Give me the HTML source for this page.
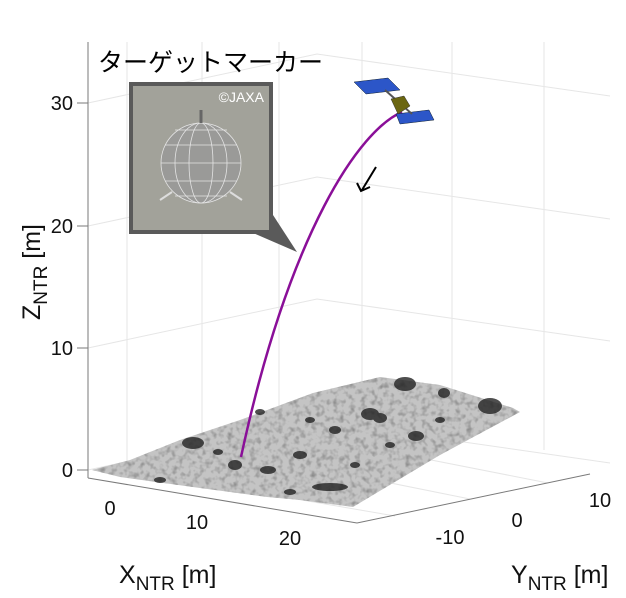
<!DOCTYPE html>
<html><head><meta charset="utf-8"><style>
html,body{margin:0;padding:0;background:#fff;}
svg{display:block;font-family:"Liberation Sans","Noto Sans CJK JP",sans-serif;}
</style></head><body>
<svg width="626" height="598" viewBox="0 0 626 598" xmlns="http://www.w3.org/2000/svg">
<defs>
<filter id="n" x="0" y="0" width="1" height="1">
<feTurbulence type="fractalNoise" baseFrequency="0.18" numOctaves="2" seed="3"/>
<feColorMatrix type="matrix" values="0 0 0 0 0.25  0 0 0 0 0.25  0 0 0 0 0.25  0 0 0 -2.2 1.2"/>
<feComposite in2="SourceGraphic" operator="in"/>
</filter>
</defs>
<g stroke="#e6e6e6" stroke-width="1" fill="none">
<line x1="127" y1="42" x2="127" y2="470"/>
<line x1="202" y1="42" x2="202" y2="445"/>
<line x1="279" y1="42" x2="279" y2="430"/>
<line x1="362" y1="42" x2="362" y2="425"/>
<line x1="452" y1="42" x2="452" y2="435"/>
<line x1="544" y1="42" x2="544" y2="450"/>
<polyline points="88,103 317,54 610,96"/>
<polyline points="88,226 317,177 610,219"/>
<polyline points="88,348 317,299 610,341"/>
<polyline points="88,470 317,421 610,463"/>
<line x1="127" y1="470" x2="395" y2="516"/>
<line x1="202" y1="445" x2="470" y2="499"/>
<line x1="279" y1="430" x2="548" y2="483"/>
</g>
<g stroke="#7a7a7a" stroke-width="1" fill="none">
<line x1="88" y1="42" x2="88" y2="478"/>
<line x1="88" y1="478" x2="357" y2="523"/>
<line x1="357" y1="523" x2="590" y2="474"/>
<line x1="77" y1="103" x2="88" y2="103"/><line x1="77" y1="226" x2="88" y2="226"/>
<line x1="77" y1="348" x2="88" y2="348"/><line x1="77" y1="470" x2="88" y2="470"/>
</g>
<g font-size="20" fill="#111">
<text x="73" y="110" text-anchor="end">30</text>
<text x="73" y="233" text-anchor="end">20</text>
<text x="73" y="355" text-anchor="end">10</text>
<text x="73" y="477" text-anchor="end">0</text>
<text x="110" y="515" text-anchor="middle">0</text>
<text x="197" y="529" text-anchor="middle">10</text>
<text x="290" y="545" text-anchor="middle">20</text>
<text x="450" y="544" text-anchor="middle">-10</text>
<text x="517" y="527" text-anchor="middle">0</text>
<text x="600" y="507" text-anchor="middle">10</text>
</g>
<text x="119" y="583" font-size="25" fill="#111">X<tspan font-size="19" dy="7">NTR</tspan><tspan dy="-7"> [m]</tspan></text>
<text x="511" y="583" font-size="25" fill="#111">Y<tspan font-size="19" dy="7">NTR</tspan><tspan dy="-7"> [m]</tspan></text>
<text transform="translate(40,320) rotate(-90)" font-size="25" fill="#111">Z<tspan font-size="19" dy="7">NTR</tspan><tspan dy="-7"> [m]</tspan></text>
<!-- terrain -->
<polygon points="92,470 130,460 180,440 240,420 313,393 380,377 440,385 513,408 520,412 440,455 353,507 300,500 267,497 200,488 120,477" fill="#c4c4c4"/>
<polygon points="92,470 130,460 180,440 240,420 313,393 380,377 440,385 513,408 520,412 440,455 353,507 300,500 267,497 200,488 120,477" fill="#c4c4c4" filter="url(#n)"/>
<g fill="#222" opacity="0.8">
<ellipse cx="193" cy="443" rx="11" ry="6"/><ellipse cx="405" cy="384" rx="11" ry="7"/>
<ellipse cx="490" cy="406" rx="12" ry="8"/><ellipse cx="444" cy="393" rx="6" ry="5"/>
<ellipse cx="370" cy="414" rx="9" ry="6"/><ellipse cx="380" cy="418" rx="7" ry="5"/>
<ellipse cx="416" cy="436" rx="8" ry="5"/><ellipse cx="235" cy="465" rx="7" ry="5"/>
<ellipse cx="330" cy="487" rx="18" ry="4"/><ellipse cx="268" cy="470" rx="8" ry="4"/>
<ellipse cx="300" cy="455" rx="7" ry="4"/><ellipse cx="218" cy="452" rx="5" ry="3"/>
<ellipse cx="335" cy="430" rx="6" ry="4"/><ellipse cx="390" cy="445" rx="5" ry="3"/>
<ellipse cx="290" cy="492" rx="6" ry="3"/><ellipse cx="160" cy="480" rx="6" ry="3"/>
<ellipse cx="260" cy="412" rx="5" ry="3"/><ellipse cx="310" cy="420" rx="5" ry="3"/>
<ellipse cx="440" cy="420" rx="5" ry="3"/><ellipse cx="355" cy="465" rx="5" ry="3"/>
</g>
<!-- trajectory -->
<path d="M402,112 C360,130 290,230 241,457" stroke="#8a0f98" stroke-width="2.5" fill="none"/>
<path d="M376,167 L362,190 M357,183 L361,191 L370,187" stroke="#000" stroke-width="2" fill="none"/>
<!-- satellite -->
<g>
<polygon points="354,82 388,78 400,90 366,94" fill="#2c56c8" stroke="#123" stroke-width="0.5"/>
<polygon points="396,114 429,110 434,120 400,124" fill="#2c56c8" stroke="#123" stroke-width="0.5"/>
<line x1="385" y1="90" x2="412" y2="114" stroke="#555" stroke-width="2"/>
<polygon points="391,99 404,96 410,106 398,114" fill="#6b6611" stroke="#333" stroke-width="0.5"/>
</g>
<!-- photo callout -->
<polygon points="253,233 297,252 273,215" fill="#5a5a5a"/>
<rect x="129" y="82" width="144" height="152" fill="#5a5a5a"/>
<rect x="133" y="86" width="136" height="144" fill="#a2a29a"/>
<circle cx="201" cy="163" r="40" fill="#9a9a98"/>
<g stroke="#e4e4e4" stroke-width="0.8" fill="none">
<ellipse cx="201" cy="163" rx="40" ry="40"/><ellipse cx="201" cy="163" rx="26" ry="40"/><ellipse cx="201" cy="163" rx="12" ry="40"/>
<line x1="161" y1="163" x2="241" y2="163"/><line x1="165" y1="145" x2="237" y2="145"/><line x1="165" y1="181" x2="237" y2="181"/>
<line x1="175" y1="130" x2="227" y2="130"/><line x1="175" y1="196" x2="227" y2="196"/>
</g>
<line x1="201" y1="110" x2="201" y2="123" stroke="#666" stroke-width="3"/>
<line x1="160" y1="200" x2="172" y2="192" stroke="#ddd" stroke-width="2"/>
<line x1="242" y1="200" x2="230" y2="192" stroke="#ddd" stroke-width="2"/>
<text x="264" y="102" font-size="14" fill="#fff" text-anchor="end">©JAXA</text>
<text x="98" y="71" font-size="25" fill="#000">ターゲットマーカー</text>
</svg>
</body></html>
